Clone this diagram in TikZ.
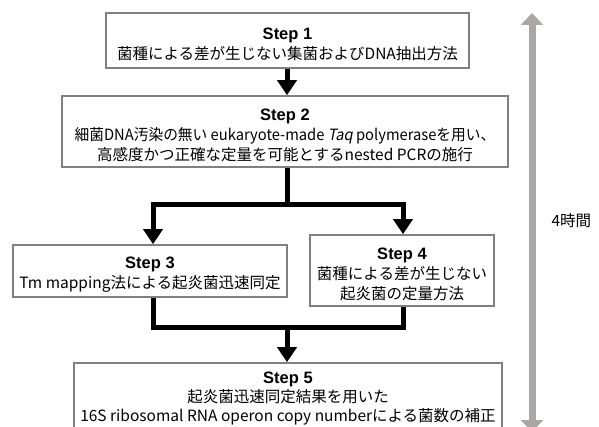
\documentclass[tikz,border=0pt]{standalone}
\usepackage{fontspec}
\usepackage{graphicx}
\setmainfont{Noto Sans CJK JP}[AutoFakeSlant=0.2]
\newfontfamily\stepfont{Liberation Sans}
\usetikzlibrary{arrows.meta}
\definecolor{boxgray}{RGB}{128,128,128}
\definecolor{timegray}{RGB}{170,168,166}
\newcommand{\stp}[1]{{\stepfont\bfseries\fontsize{16.5}{20}\selectfont Step #1}}
\tikzset{
  box/.style={draw=boxgray, line width=1.6pt, fill=white, inner sep=0pt},
  txt/.style={align=center, inner sep=0pt, yshift=-4pt, font=\fontsize{15.5}{20}\selectfont},
  flow/.style={line width=5pt, black},
  arr/.style={flow, -{Triangle[width=19pt,length=15pt]}},
  timearr/.style={line width=7pt, timegray, {Triangle[width=22pt,length=12pt]}-{Triangle[width=22pt,length=12pt]}}
}
\begin{document}
\begin{tikzpicture}[x=1pt,y=-1pt]
\useasboundingbox (0,0) rectangle (599,427);
% boxes
\node[box, minimum width=363pt, minimum height=55pt,
  label={[txt]center:{\stp{1}\\菌種による差が生じない集菌およびDNA抽出方法}}] (s1) at (287.5,40.5) {};
\node[box, minimum width=446pt, minimum height=71pt,
  label={[txt]center:{\stp{2}\\\scalebox{0.95}[1]{細菌DNA汚染の無い eukaryote-made \textit{Taq} polymeraseを用い、}\\高感度かつ正確な定量を可能とするnested PCRの施行}}] (s2) at (285,131.5) {};
\node[box, minimum width=274pt, minimum height=52pt,
  label={[txt]center:{\stp{3}\\Tm mapping法による起炎菌迅速同定}}] (s3) at (150,271) {};
\node[box, minimum width=184pt, minimum height=71pt,
  label={[txt]center:{\stp{4}\\菌種による差が生じない\\起炎菌の定量方法}}] (s4) at (402,270.5) {};
\node[box, minimum width=428pt, minimum height=68pt,
  label={[txt, yshift=2pt, font=\fontsize{15.5}{19}\selectfont]center:{\stp{5}\\起炎菌迅速同定結果を用いた\\16S ribosomal RNA operon copy numberによる菌数の補正}}] (s5) at (288,397) {};
% connectors
\coordinate (sp) at (287,205);
\coordinate (mg) at (287,327);
\draw[arr] ([xshift=-0.5pt]s1.south) -- ([xshift=-0.5pt]s1.south |- s2.north);
\draw[flow] (s2.south -| sp) -- (sp);
\draw[arr] (sp) -| ([xshift=3pt]s3.north);
\draw[arr] (sp) -| ([xshift=1pt]s4.north);
\draw[flow, line join=miter] ([xshift=3pt]s3.south) |- (mg) -| ([xshift=1pt]s4.south);
\draw[arr] (mg) -- (mg |- s5.north);
% time arrow
\coordinate (t1) at (532,13);
\coordinate (t2) at (532,432);
\draw[timearr] (t1) -- (t2);
\node[font=\fontsize{15.5}{18}\selectfont, anchor=west] (tl) at (548,221) {4時間};
\end{tikzpicture}
\end{document}
